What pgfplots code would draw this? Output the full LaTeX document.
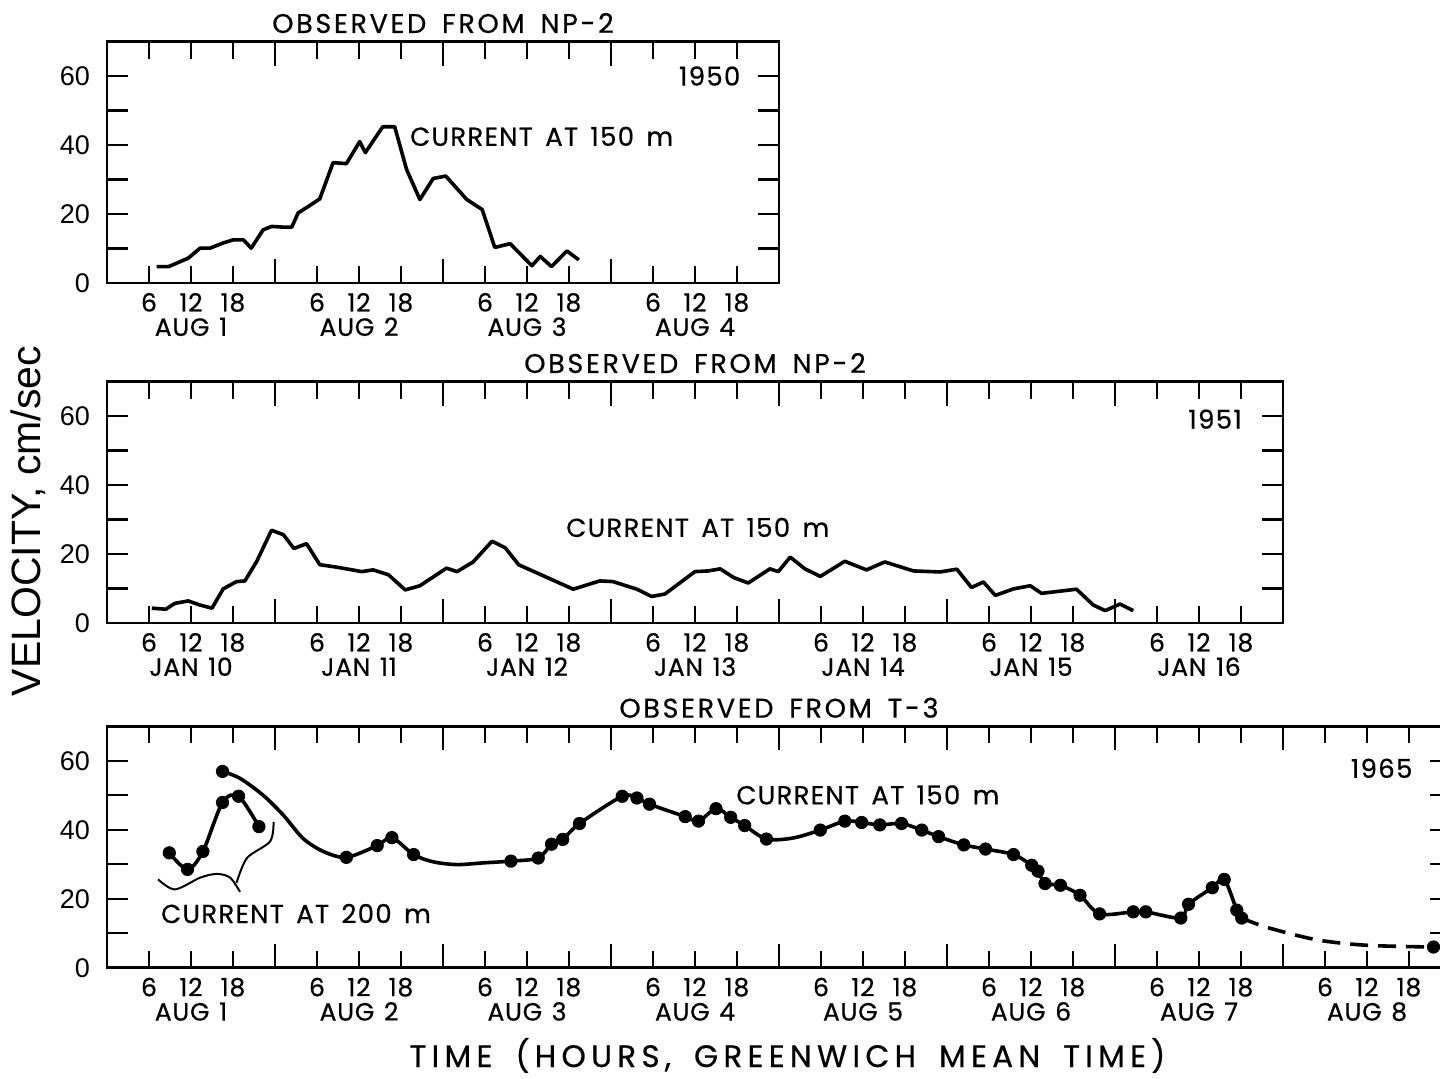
\documentclass[border=0pt]{standalone}
\usepackage{fontspec}
\setmainfont{Poppins}
\newfontfamily\helv{Liberation Sans}
\newfontfamily\lettering[LetterSpace=5, WordSpace=1.5, FakeBold=0.6]{Poppins}
\newfontfamily\titlelet[LetterSpace=10, WordSpace=1.6, FakeBold=0.6]{Poppins}
\newfontfamily\ticklet[LetterSpace=3, WordSpace=1.3, FakeBold=0.6]{Poppins}
\newfontfamily\wide[LetterSpace=17, WordSpace=1.7, FakeBold=0.6]{Poppins}
\usepackage{pgfplots}
\pgfplotsset{compat=1.18}

\tikzset{lbl/.style={font=\lettering\fontsize{13}{13}\selectfont}}
\pgfplotsset{
  panel/.style={
    scale only axis,
    height=120.75pt,
    ymin=0, ymax=70,
    axis line style={line width=1.4pt},
    tick align=inside,
    xtick pos=both, ytick pos=both,
    major tick length=8.5pt,
    every tick/.style={black, line width=1.2pt},
    ytick={0,10,20,30,40,50,60},
    yticklabels={0,,20,,40,,60},
    ytick style={/pgfplots/major tick length=10.5pt},
    yticklabel style={font=\helv\fontsize{13.5}{13.5}\selectfont, xshift=-5pt},
    xticklabel style={font=\ticklet\fontsize{12.5}{12.2}\selectfont, align=center, yshift=-1.5pt},
    extra x tick style={/pgfplots/major tick length=12pt},
    extra x tick labels={},
    every axis title shift=0pt,
    title style={font=\titlelet\fontsize{13.5}{13.5}\selectfont, at={(0.5,1)}, anchor=base, yshift=4.3pt},
    clip=false,
  },
  obs/.style={black, line width=1.8pt, line join=round, no marks},
  dots/.style={only marks, mark=*, mark size=3.1pt, black},
}

\begin{document}
\begin{tikzpicture}

% 1950, NP-2
\begin{axis}[panel,
  at={(53.5pt,-141.5pt)}, anchor=south west,
  width=336pt, xmin=0, xmax=96,
  xtick={6,12,18,30,36,42,54,60,66,78,84,90},
  xticklabels={6,{12\\AUG 1},18,6,{12\\AUG 2},18,6,{12\\AUG 3},18,6,{12\\AUG 4},18},
  extra x ticks={24,48,72},
  title={OBSERVED FROM NP-2},
]
\addplot[obs] coordinates {
  (7.1,4.75)(8.8,4.75)(11.6,7.2)(13.3,10.1)(14.7,10.1)(16.6,11.6)(18.0,12.5)
  (19.5,12.5)(20.6,10.1)(22.3,15.4)(23.5,16.4)(25.2,16.2)(26.4,16.2)(27.3,20.3)
  (29.0,22.5)(30.4,24.4)(32.3,34.9)(34.2,34.6)(36.1,41.0)(36.9,37.8)(39.4,45.3)
  (41.1,45.3)(42.8,32.9)(44.7,24.2)(46.6,30.3)(48.4,31.0)(51.4,24.2)(53.6,21.3)
  (55.4,10.3)(57.6,11.4)(60.7,5.0)(61.9,7.7)(63.5,4.75)(65.7,9.3)(67.4,6.7)
};
\node[lbl] at (axis cs:86.1,60) {1950};
\node[lbl] at (axis cs:62.1,42.5) {CURRENT AT 150 m};
\end{axis}

% 1951, NP-2
\begin{axis}[panel,
  at={(53.5pt,-311.5pt)}, anchor=south west,
  width=588pt, xmin=0, xmax=168,
  xtick={6,12,18,30,36,42,54,60,66,78,84,90,102,108,114,126,132,138,150,156,162},
  xticklabels={6,{12\\JAN 10},18,6,{12\\JAN 11},18,6,{12\\JAN 12},18,6,{12\\JAN 13},18,
    6,{12\\JAN 14},18,6,{12\\JAN 15},18,6,{12\\JAN 16},18},
  extra x ticks={24,48,72,96,120,144},
  title={OBSERVED FROM NP-2},
]
\addplot[obs] coordinates {
  (6.4,4.3)(8.4,4.0)(9.7,5.7)(11.6,6.4)(13.3,5.2)(15.0,4.3)(16.6,9.9)(18.5,12.0)
  (19.7,12.2)(21.4,17.9)(23.5,26.9)(25.2,25.6)(26.7,21.6)(28.5,23.0)(30.4,16.9)
  (32.8,16.2)(36.4,14.9)(38.0,15.4)(40.2,14.0)(42.6,9.6)(44.7,10.8)(48.5,15.9)
  (50.0,14.9)(52.3,17.7)(55.0,23.7)(56.9,21.8)(58.8,16.9)(66.6,9.8)(70.4,12.2)
  (72.3,12.0)(75.7,9.8)(77.8,7.7)(79.7,8.4)(84.0,14.9)(85.9,15.1)(87.6,15.7)
  (89.5,13.2)(91.6,11.6)(94.7,15.7)(95.9,14.9)(97.6,19.1)(99.7,15.7)(101.9,13.5)
  (105.4,17.9)(108.5,15.4)(111.1,17.7)(115.2,15.1)(119.0,14.8)(121.4,15.6)
  (123.5,10.3)(125.2,11.9)(126.9,8.0)(129.5,9.9)(131.9,10.8)(133.5,8.6)(138.5,9.8)
  (140.9,5.2)(142.6,3.6)(144.7,5.5)(146.6,3.6)
};
\node[lbl] at (axis cs:158.3,59.1) {1951};
\node[lbl] at (axis cs:84.4,27.7) {CURRENT AT 150 m};
\end{axis}

% 1965, T-3
\begin{axis}[panel,
  at={(53.5pt,-483.85pt)}, anchor=south west,
  width=672pt, xmin=0, xmax=192,
  xtick={6,12,18,30,36,42,54,60,66,78,84,90,102,108,114,126,132,138,150,156,162,174,180,186},
  xticklabels={6,{12\\AUG 1},18,6,{12\\AUG 2},18,6,{12\\AUG 3},18,6,{12\\AUG 4},18,
    6,{12\\AUG 5},18,6,{12\\AUG 6},18,6,{12\\AUG 7},18,6,{12\\AUG 8},18},
  extra x ticks={24,48,72,96,120,144,168},
  title={OBSERVED FROM T-3},
]
% current at 150 m
\addplot[obs, smooth, tension=0.5] coordinates {
  (16.5,56.9)(19.0,54.9)(22.3,50.0)(25.2,44.2)(28.0,37.5)(30.9,33.7)(34.2,32.0)
  (38.6,35.4)(40.7,37.7)(43.8,32.8)(46.6,30.7)(50.0,29.9)(53.8,30.4)(57.7,30.9)
  (61.6,31.8)(63.5,35.8)(65.1,37.2)(67.5,41.8)(73.6,49.7)(75.7,49.2)(77.5,47.4)
  (82.6,43.8)(84.5,42.5)(87.0,46.1)(89.1,43.6)(91.1,41.2)(94.2,37.3)(98.0,37.6)
  (101.9,39.9)(105.4,42.5)(107.8,42.1)(110.4,41.4)(113.5,41.8)(116.4,39.9)
  (118.8,38.0)(122.4,35.6)(125.5,34.4)(129.5,32.8)(132.1,29.7)(133.0,28.0)
  (134.0,24.4)(136.2,23.9)(139.0,21.0)(141.8,15.6)(146.6,16.2)(148.4,16.2)
  (153.4,14.4)(154.5,18.4)(157.9,23.2)(159.6,25.6)(161.4,16.7)(162.1,14.4)
};
\addplot[obs, smooth, dash pattern=on 9pt off 5pt] coordinates {
  (162.1,14.4)(165.7,11.7)(172.8,8.1)(180.0,6.5)(189.5,6.0)
};
\addplot[dots] coordinates {
  (16.5,56.9)(34.2,32.0)(38.6,35.4)(40.7,37.7)(43.8,32.8)(57.7,30.9)(61.6,31.8)
  (63.5,35.8)(65.1,37.2)(67.5,41.8)(73.6,49.7)(75.7,49.2)(77.5,47.4)(82.6,43.8)
  (84.5,42.5)(87.0,46.1)(89.1,43.6)(91.1,41.2)(94.2,37.3)(101.9,39.9)(105.4,42.5)
  (107.8,42.1)(110.4,41.4)(113.5,41.8)(116.4,39.9)(118.8,38.0)(122.4,35.6)
  (125.5,34.4)(129.5,32.8)(132.1,29.7)(133.0,28.0)(134.0,24.4)(136.2,23.9)
  (139.0,21.0)(141.8,15.6)(146.6,16.2)(148.4,16.2)(153.4,14.4)(154.5,18.4)
  (157.9,23.2)(159.6,25.6)(161.4,16.7)(162.1,14.4)(189.5,6.0)
};
% current at 200 m
\addplot[obs, smooth, tension=0.5] coordinates {
  (8.9,33.3)(11.5,28.5)(13.7,33.7)(16.5,47.9)(18.8,49.7)(21.7,40.9)
};
\addplot[dots] coordinates {
  (8.9,33.3)(11.5,28.5)(13.7,33.7)(16.5,47.9)(18.8,49.7)(21.7,40.9)
};
% bracket
\addplot[black, line width=1pt, smooth, no marks] coordinates {
  (7.3,25.6)(9.7,22.7)(13.3,26.1)(15.7,27.2)(17.6,26.1)(19.0,22.0)
};
\addplot[black, line width=1pt, smooth, no marks] coordinates {
  (18.5,24.6)(20.0,31.8)(23.3,36.6)(23.8,42.3)
};
\node[lbl] at (axis cs:182.1,57.8) {1965};
\node[lbl] at (axis cs:108.7,50.1) {CURRENT AT 150 m};
\node[lbl] at (axis cs:27,15.7) {CURRENT AT 200 m};
\end{axis}

\node[rotate=90, font=\helv\fontsize{20.5}{20.5}\selectfont] at (14pt,-260.5pt) {VELOCITY, cm/sec};
\node[anchor=base, font=\wide\fontsize{15.5}{15.5}\selectfont] at (393.75pt,-533.5pt) {TIME (HOURS, GREENWICH MEAN TIME)};

\pgfresetboundingbox
\path[use as bounding box] (0pt,0pt) rectangle (720pt,-539pt);
\end{tikzpicture}
\end{document}
